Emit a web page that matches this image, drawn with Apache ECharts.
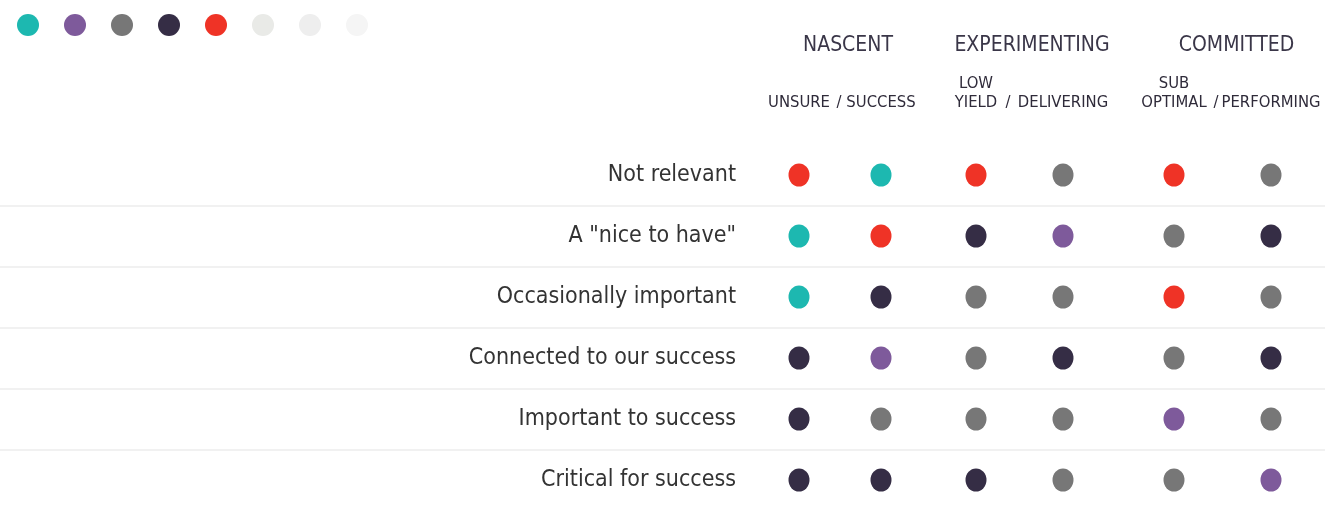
<!DOCTYPE html>
<html><head><meta charset="utf-8">
<script src="https://cdn.jsdelivr.net/npm/echarts@6/dist/echarts.min.js"></script>
<style>html,body{margin:0;padding:0;background:#fff}#c{width:1330px;height:506px}</style>
</head><body><div id="c"></div>
<script>
// ---- data ----
const rows = ['Not relevant', 'A "nice to have"', 'Occasionally important', 'Connected to our success', 'Important to success', 'Critical for success'];
const groups = ['NASCENT', 'EXPERIMENTING', 'COMMITTED'];
const columns = [['UNSURE', 'SUCCESS'], ['LOW\nYIELD', 'DELIVERING'], ['SUB\nOPTIMAL', 'PERFORMING']];
const statusNames = ['Teal', 'Purple', 'Grey', 'Navy', 'Red', 'Light 1', 'Light 2', 'Light 3'];
const statusColors = ['#1DB8B0', '#7E5A9B', '#777777', '#352D45', '#EF3326', '#E9EAE7', '#EEEEEE', '#F5F5F5'];
// one entry per row, six columns (status name)
const cells = [
  ['Red', 'Teal', 'Red', 'Grey', 'Red', 'Grey'],
  ['Teal', 'Red', 'Navy', 'Purple', 'Grey', 'Navy'],
  ['Teal', 'Navy', 'Grey', 'Grey', 'Red', 'Grey'],
  ['Navy', 'Purple', 'Grey', 'Navy', 'Grey', 'Navy'],
  ['Navy', 'Grey', 'Grey', 'Grey', 'Purple', 'Grey'],
  ['Navy', 'Navy', 'Navy', 'Grey', 'Grey', 'Purple']
];

// ---- layout ----
const FONT = "'Liberation Sans Narrow','DejaVu Sans Condensed','Liberation Sans',sans-serif";
const TOP = 144.5, H = 366;
const gridBoxes = [
  {left: 758, width: 164},
  {left: 932.5, width: 174},
  {left: 1125.5, width: 194}
];
const headerShift = [16, 25, 28];

const grids = gridBoxes.map(b => ({left: b.left, width: b.width, top: TOP, height: H, outerBoundsMode: 'none', containLabel: false}));
grids.push({left: 0, right: 5, top: TOP, height: H, outerBoundsMode: 'none', containLabel: false});

const xAxes = groups.map((g, gi) => ({
  type: 'category', gridIndex: gi, position: 'top', data: columns[gi],
  axisLine: {show: false}, axisTick: {show: false}, splitLine: {show: false},
  axisLabel: {margin: 32, fontFamily: FONT, fontSize: 16.5, lineHeight: 19, color: '#2f2b3a', interval: 0},
  name: g, nameLocation: 'middle', nameGap: 88,
  nameTextStyle: {fontFamily: FONT, fontSize: 21, color: '#3a3648', padding: [0, 0, 0, headerShift[gi]]}
}));
xAxes.push({type: 'value', gridIndex: 3, show: false});

const yAxes = groups.map((g, gi) => ({
  type: 'category', gridIndex: gi, data: rows, inverse: true,
  axisLine: {show: false}, axisTick: {show: false}, splitLine: {show: false},
  axisLabel: {show: gi === 0, margin: 22, fontFamily: FONT, fontSize: 23, color: '#333333'}
}));
yAxes.push({
  type: 'category', gridIndex: 3, data: rows, inverse: true,
  axisLine: {show: false}, axisTick: {show: false}, axisLabel: {show: false},
  splitLine: {show: true, showMinLine: false, showMaxLine: false, lineStyle: {color: '#EDEDED', width: 1.5}}
});

const series = [];
statusNames.forEach((s, si) => {
  groups.forEach((g, gi) => {
    const data = [];
    cells.forEach((row, ri) => {
      [0, 1].forEach(ci => { if (row[gi * 2 + ci] === s) data.push([ci, ri]); });
    });
    if (gi > 0 && data.length === 0) return;
    series.push({
      type: 'scatter', name: s, xAxisIndex: gi, yAxisIndex: gi, data: data,
      symbol: 'circle', symbolSize: [21, 23],
      itemStyle: {color: statusColors[si], opacity: 1}, silent: true
    });
  });
});

const chart = echarts.init(document.getElementById('c'), null, {renderer: 'canvas'});
chart.setOption({
  backgroundColor: '#ffffff',
  animation: false,
  grid: grids, xAxis: xAxes, yAxis: yAxes, series: series,
  legend: {
    left: 12, top: 9, itemWidth: 22, itemHeight: 22, itemGap: 25, icon: 'circle',
    data: statusNames, formatter: () => '', selectedMode: false
  },
  graphic: [
    {type: 'text', x: 839, y: 103, style: {text: '/', font: '16.5px ' + FONT, fill: '#2f2b3a', align: 'center', verticalAlign: 'middle'}},
    {type: 'text', x: 1008, y: 103, style: {text: '/', font: '16.5px ' + FONT, fill: '#2f2b3a', align: 'center', verticalAlign: 'middle'}},
    {type: 'text', x: 1216, y: 103, style: {text: '/', font: '16.5px ' + FONT, fill: '#2f2b3a', align: 'center', verticalAlign: 'middle'}}
  ]
});
</script></body></html>
